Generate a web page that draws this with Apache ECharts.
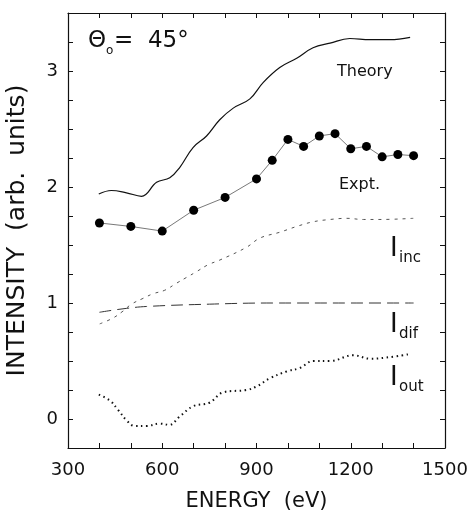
<!DOCTYPE html>
<html><head><meta charset="utf-8">
<script src="https://cdn.jsdelivr.net/npm/echarts@6/dist/echarts.min.js"></script>
<style>html,body{margin:0;padding:0;background:#fff}#c{width:470px;height:511px}</style>
</head><body><div id="c"></div>
<script>
// Data (energy in eV, intensity in arb. units)
const exptE = [400,500,600,700,800,900,950,1000,1050,1100,1150,1200,1250,1300,1350,1400];
const exptI = [1.69,1.66,1.62,1.80,1.91,2.07,2.23,2.41,2.35,2.44,2.46,2.33,2.35,2.26,2.28,2.27];

const theoryE = [398,438,486,534,582,624,656,698,741,783,826,879,921,974,1028,1080,1134,1197,1261,1325,1389];
const theoryI = [1.94,1.97,1.95,1.92,2.04,2.08,2.17,2.34,2.44,2.58,2.68,2.76,2.90,3.03,3.11,3.20,3.24,3.28,3.27,3.27,3.29];

const incE = [401,443,475,502,539,571,608,645,677,709,746,783,868,911,974,1028,1080,1134,1187,1240,1293,1399];
const incI = [0.82,0.87,0.93,0.99,1.04,1.08,1.11,1.17,1.22,1.27,1.33,1.37,1.48,1.56,1.61,1.66,1.70,1.72,1.73,1.72,1.72,1.73];

const difE = [400,475,550,750,950,1200,1400];
const difI = [0.92,0.95,0.97,0.99,1.00,1.00,1.00];

const outE = [398,433,459,486,512,550,592,623,655,698,750,794,868,900,942,996,1038,1081,1134,1208,1261,1314,1389];
const outI = [0.21,0.16,0.08,-0.01,-0.06,-0.06,-0.04,-0.05,0.02,0.11,0.14,0.23,0.25,0.28,0.35,0.41,0.44,0.50,0.50,0.55,0.52,0.53,0.56];

const xTickLabels = [300,600,900,1200,1500];
const yTickLabels = [0,1,2,3];

const zip = (a,b)=>a.map((v,i)=>[v,b[i]]);
const FONT = 'DejaVu Sans';
const chart = echarts.init(document.getElementById('c'));
const axisLine = {show:true, onZero:false, lineStyle:{color:'#111', width:1.2}};
const tick = {inside:true, length:5, lineStyle:{color:'#111', width:1}};
chart.setOption({
  animation:false,
  backgroundColor:'#fff',
  grid:{left:68, right:25, top:13, bottom:63, containLabel:false, outerBoundsMode:'none'},
  xAxis:[
    {type:'value', min:300, max:1500, interval:100, position:'bottom',
     axisLine, axisTick:tick, splitLine:{show:false},
     axisLabel:{color:'#111', fontFamily:FONT, fontSize:18, margin:13,
       formatter:v=>xTickLabels.includes(v)?String(v):''},
     name:'ENERGY  (eV)', nameLocation:'middle', nameGap:43,
     nameTextStyle:{color:'#111', fontFamily:FONT, fontSize:21}},
    {type:'value', min:300, max:1500, interval:100, position:'top',
     axisLine, axisTick:tick, splitLine:{show:false}, axisLabel:{show:false}}
  ],
  yAxis:[
    {type:'value', min:-0.25, max:3.5, interval:0.25, position:'left',
     axisLine, axisTick:tick, splitLine:{show:false},
     axisLabel:{color:'#111', fontFamily:FONT, fontSize:18, margin:10,
       formatter:v=>yTickLabels.includes(v)?String(v):''},
     name:'INTENSITY  (arb.  units)', nameLocation:'middle', nameGap:38,
     nameTextStyle:{color:'#111', fontFamily:FONT, fontSize:25}},
    {type:'value', min:-0.25, max:3.5, interval:0.25, position:'right',
     axisLine, axisTick:tick, splitLine:{show:false}, axisLabel:{show:false}}
  ],
  series:[
    {type:'line', data:zip(theoryE,theoryI), smooth:0.4, symbol:'none',
     lineStyle:{color:'#111', width:1.2}},
    {type:'line', data:zip(exptE,exptI), symbol:'circle', symbolSize:9,
     itemStyle:{color:'#000'}, lineStyle:{color:'#555', width:0.8}},
    {type:'line', data:zip(incE,incI), smooth:0.4, symbol:'none',
     lineStyle:{color:'#555', width:1, type:[3,5]}},
    {type:'line', data:zip(difE,difI), smooth:0.4, symbol:'none',
     lineStyle:{color:'#333', width:1, type:[12,6]}},
    {type:'line', data:zip(outE,outI), smooth:0.4, symbol:'none',
     lineStyle:{color:'#111', width:2, type:[1.5,3.5]}}
  ],
  graphic:[
    {type:'text', left:88, top:30, style:{text:'Θ', font:'23px "DejaVu Sans"', fill:'#111'}},
    {type:'text', left:106, top:45, style:{text:'o', font:'12px "DejaVu Sans"', fill:'#111'}},
    {type:'text', left:114, top:30, style:{text:'=  45°', font:'23px "DejaVu Sans"', fill:'#111'}},
    {type:'text', left:337, top:64, style:{text:'Theory', font:'16px "DejaVu Sans"', fill:'#111'}},
    {type:'text', left:339, top:177, style:{text:'Expt.', font:'16px "DejaVu Sans"', fill:'#111'}},
    {type:'text', left:390, top:236, style:{text:'I', font:'26px "DejaVu Sans"', fill:'#111'}},
    {type:'text', left:399, top:251, style:{text:'inc', font:'15px "DejaVu Sans"', fill:'#111'}},
    {type:'text', left:390, top:312, style:{text:'I', font:'26px "DejaVu Sans"', fill:'#111'}},
    {type:'text', left:399, top:327, style:{text:'dif', font:'15px "DejaVu Sans"', fill:'#111'}},
    {type:'text', left:390, top:365, style:{text:'I', font:'26px "DejaVu Sans"', fill:'#111'}},
    {type:'text', left:399, top:380, style:{text:'out', font:'15px "DejaVu Sans"', fill:'#111'}}
  ]
});
</script></body></html>
